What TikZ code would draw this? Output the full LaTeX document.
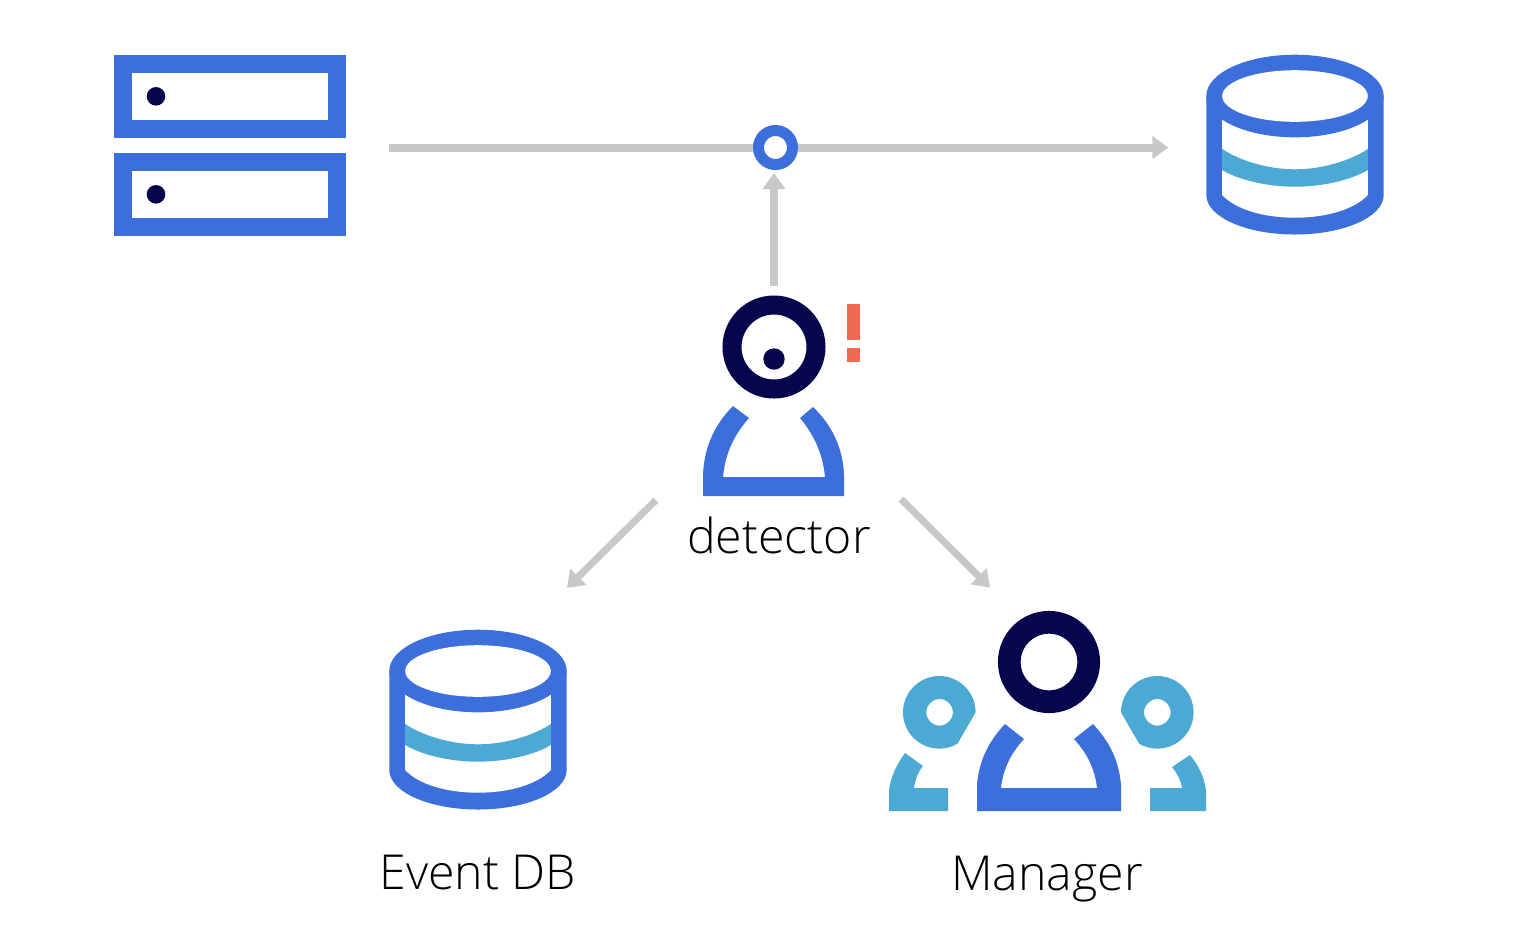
\documentclass[tikz,border=0pt]{standalone}
\usepackage{fontspec}
\setmainfont{Open Sans}[UprightFont=* Light]
\usetikzlibrary{arrows.meta}

\definecolor{iconblue}{HTML}{3C6FDB}
\definecolor{iconsky}{HTML}{4BA9D3}
\definecolor{iconnavy}{HTML}{06064F}
\definecolor{flowgray}{HTML}{C8C8C8}
\definecolor{alertred}{HTML}{EE6A50}

\tikzset{
    dbicon/.pic={
        \fill[iconblue] (-88.7,-49) -- (-88.7,50)
            arc[start angle=180,end angle=0,x radius=88.7,y radius=39.5] -- (88.7,-49) -- cycle;
        \fill[white] (-72.8,-49) -- (-72.8,50)
            .. controls (-60,64) and (-32,72.7) .. (0,72.7)
            .. controls (32,72.7) and (60,64) .. (72.8,50) -- (72.8,-49) -- cycle;
        \fill[iconsky] (-72.8,4) .. controls (-58,14) and (-30,24.3) .. (0,24.3)
            .. controls (30,24.3) and (58,14) .. (72.8,4)
            -- (72.8,25) .. controls (58,34) and (30,41.7) .. (0,41.7)
            .. controls (-30,41.7) and (-58,34) .. (-72.8,25) -- cycle;
        \fill[iconblue] (0,-49) circle[x radius=88.7,y radius=41.3];
        \fill[white] (0,-49) circle[x radius=72.8,y radius=25.8];
    }
}

\begin{document}
\begin{tikzpicture}[
    x=0.01cm,
    y=-0.01cm,
    >={Triangle[length=0.16cm,width=0.22cm]},
    flow/.style={draw=flowgray,line width=0.08cm},
    iconbox/.style={inner sep=0pt,outer sep=0pt},
    caption/.style={anchor=base,inner sep=0pt,text=black,font=\fontsize{13.7}{16}\selectfont}
]
\useasboundingbox (0,0) rectangle (1538,950);

% --------------------------------------------------
% Icon boxes
% --------------------------------------------------

\node[iconbox,minimum width=2.32cm,minimum height=1.81cm] (server) at (230,146) {};
\node[iconbox,minimum width=1.79cm,minimum height=1.80cm] (store) at (1295,145) {};
\node[iconbox,minimum width=1.41cm,minimum height=2.00cm] (detector) at (774,396) {};
\node[iconbox,minimum width=1.79cm,minimum height=1.80cm] (eventdb) at (478,720) {};
\node[iconbox,minimum width=3.17cm,minimum height=1.99cm] (manager) at (1047,712) {};

\node[circle,draw=iconblue,fill=white,line width=0.11cm,minimum size=0.34cm,inner sep=0pt] (hub) at (775.5,147.5) {};

% --------------------------------------------------
% Server
% --------------------------------------------------

\draw[iconblue,line width=0.18cm] (123,64.3) rectangle (337,129);
\draw[iconblue,line width=0.18cm] (123,162) rectangle (337,227);
\fill[iconnavy] (156,96.3) circle[radius=9.3];
\fill[iconnavy] (156,194.3) circle[radius=9.3];

% --------------------------------------------------
% Databases
% --------------------------------------------------

\pic at (store) {dbicon};
\pic at (eventdb) {dbicon};

% --------------------------------------------------
% Detector
% --------------------------------------------------

\draw[iconnavy,line width=0.19cm] (774,347) circle[radius=42];
\fill[iconnavy] (774,359) circle[radius=10.7];
\fill[alertred] (847,304) rectangle (860,340);
\fill[alertred] (847,348) rectangle (860,362);
\fill[iconblue] (703,496) -- (703,475) .. controls (704,447) and (715,424) .. (733,406)
    -- (749,418) .. controls (733,436) and (725,455) .. (723,477)
    -- (825,477) .. controls (823,455) and (815,436) .. (800,418)
    -- (813,407) .. controls (831,424) and (843,447) .. (844,475)
    -- (844,496) -- cycle;

% --------------------------------------------------
% Manager
% --------------------------------------------------

\draw[iconnavy,line width=0.227cm] (1049,662) circle[radius=39.7];
\fill[iconblue] (977,811) -- (977,785) .. controls (979,760) and (989,741) .. (1005,724)
    -- (1024,739) .. controls (1011,753) and (1003,769) .. (1001,788)
    -- (1097,788) .. controls (1095,769) and (1087,753) .. (1074,739)
    -- (1093,724) .. controls (1109,741) and (1119,760) .. (1121,785)
    -- (1121,811) -- cycle;

\fill[iconsky,even odd rule] (975.6,712.3) arc[start angle=0,end angle=-300,radius=36.3] -- cycle
    (939.6,712.3) circle[radius=13.3];
\fill[iconsky,even odd rule] (1121,712.3) arc[start angle=180,end angle=480,radius=36.3] -- cycle
    (1157.3,712.3) circle[radius=13.3];

\fill[iconsky] (889,811) -- (889,790) .. controls (891,776) and (897,764) .. (905,753)
    -- (923,766) .. controls (918,772) and (915,780) .. (914,788)
    -- (948,788) -- (948,811) -- cycle;
\fill[iconsky] (1206,811) -- (1206,790) .. controls (1204,776) and (1198,765) .. (1190,755)
    -- (1172,767) .. controls (1177,773) and (1181,780) .. (1182,788)
    -- (1150,788) -- (1150,811) -- cycle;

% --------------------------------------------------
% Flow
% --------------------------------------------------

\draw[flow,shorten <=0.43cm] (server.east |- hub) -- (hub);
\draw[flow,->,shorten >=0.37cm] (hub) -- (store.west |- hub);
\draw[flow,->,shorten <=0.10cm,shorten >=0.03cm] (detector.north) -- (detector.north |- hub.south);

\draw[flow,->,line width=0.07cm] ([shift={(-118,4)}]detector.south) -- ([shift={(89,-42)}]eventdb.north);
\draw[flow,->,line width=0.07cm] ([shift={(127,3)}]detector.south) -- ([shift={(-57,-25)}]manager.north);

% --------------------------------------------------
% Labels
% --------------------------------------------------

\node[caption] (detectorlabel) at (779,553) {detector};
\node[caption] (eventdblabel) at (478,889.5) {Event DB};
\node[caption] (managerlabel) at (1047,890) {Manager};

\end{tikzpicture}
\end{document}
